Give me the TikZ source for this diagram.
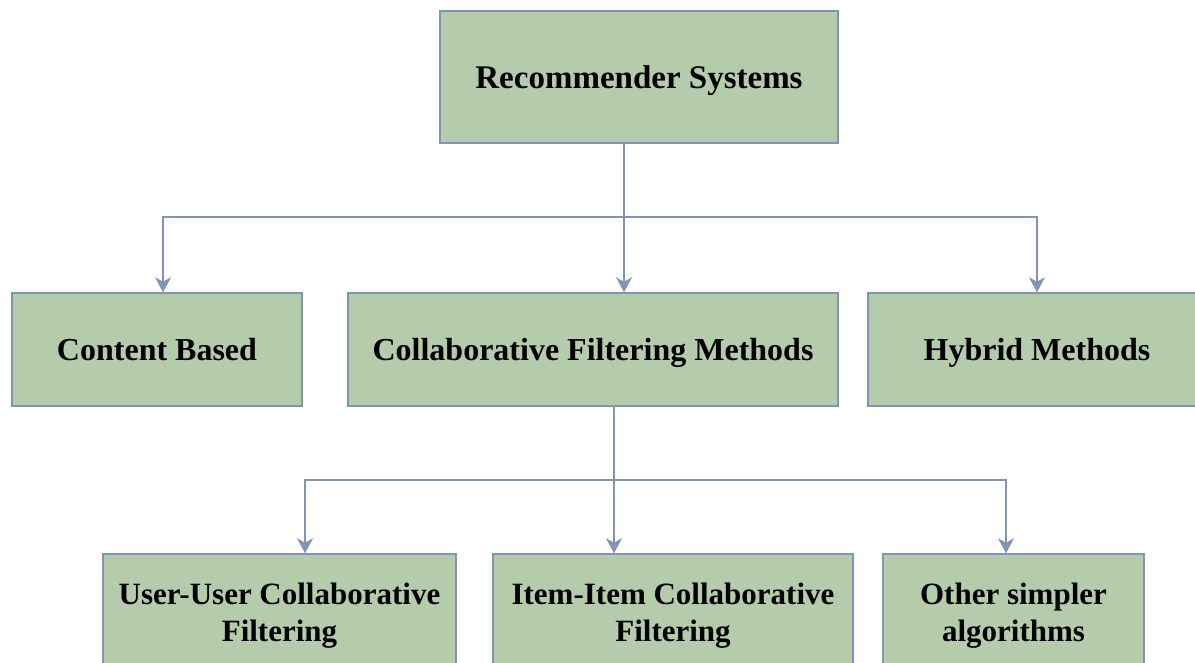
\documentclass[tikz,border=0pt]{standalone}
\usepackage{fontspec}
\setmainfont{Liberation Serif}
\usetikzlibrary{arrows.meta}
\definecolor{boxfill}{RGB}{181,204,172}
\definecolor{edgeblue}{RGB}{128,148,180}
\begin{document}
\begin{tikzpicture}[x=1pt,y=-1pt,
  box/.style={draw=edgeblue, fill=boxfill, line width=1.5pt, inner sep=0pt, align=center, text depth=0pt,
              font=\fontsize{32}{37}\selectfont\bfseries},
  conn/.style={draw=edgeblue, line width=1.5pt},
  arr/.style={conn, -{Stealth[length=15pt,width=16pt,inset=4.5pt]}}]
\useasboundingbox (0,0) rectangle (1195,662);
\fill[white] (0,0) rectangle (1195,662);
\node[box, minimum width=398pt, minimum height=132pt, font=\fontsize{33}{38}\selectfont\bfseries] (top) at (639,77) {Recommender Systems};
\node[box, minimum width=290pt, minimum height=113pt] (content) at (157,349.5) {Content Based};
\node[box, minimum width=490pt, minimum height=113pt] (collab) at (593,349.5) {Collaborative Filtering Methods};
\node[box, minimum width=338pt, minimum height=113pt] (hybrid) at (1037,349.5) {Hybrid Methods};
\node[box, minimum width=353pt, minimum height=116pt, font=\fontsize{31}{37}\selectfont\bfseries] (user) at (279.5,612) {User-User Collaborative\\Filtering};
\node[box, minimum width=360pt, minimum height=116pt, font=\fontsize{31}{37}\selectfont\bfseries] (item) at (673,612) {Item-Item Collaborative\\Filtering};
\node[box, minimum width=261pt, minimum height=116pt, font=\fontsize{31}{37}\selectfont\bfseries] (other) at (1013.5,612) {Other simpler\\algorithms};
\coordinate (j1) at (624,217);
\coordinate (c1) at (163,217);
\coordinate (h1) at (1037,217);
\draw[arr] (top.south -| j1) -- (collab.north -| j1);
\draw[arr] (j1) -- (c1) -- (content.north -| c1);
\draw[arr] (j1) -- (h1) -- (hybrid.north -| h1);
\coordinate (j2) at (614,480);
\coordinate (u2) at (305,480);
\coordinate (o2) at (1006,480);
\draw[arr] (collab.south -| j2) -- (item.north -| j2);
\draw[arr] (j2) -- (u2) -- (user.north -| u2);
\draw[arr] (j2) -- (o2) -- (other.north -| o2);
\end{tikzpicture}
\end{document}
